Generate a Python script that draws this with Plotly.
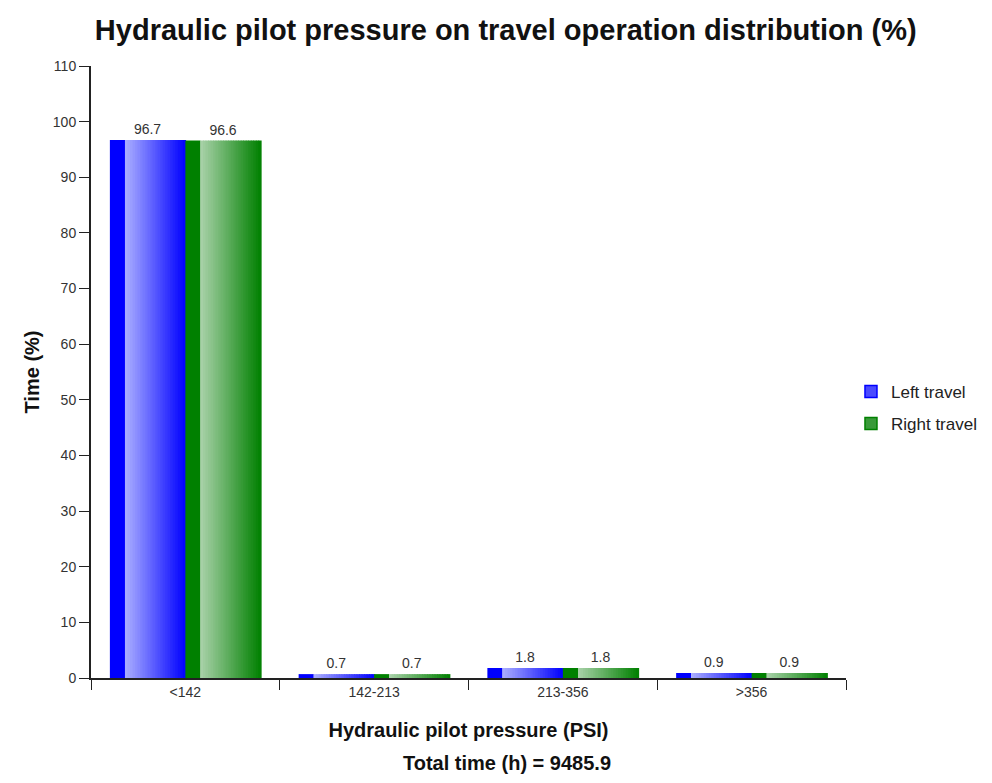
import plotly.graph_objs as go

categories = ["<142", "142-213", "213-356", ">356"]
left_travel = [96.7, 0.7, 1.8, 0.9]
right_travel = [96.6, 0.7, 1.8, 0.9]
y_ticks = list(range(0, 111, 10))
total_time = 9485.9


def blend(c1, c2, t):
    return "rgb(%d,%d,%d)" % tuple(round(a + (b - a) * t) for a, b in zip(c1, c2))


def add_gradient_bar(fig, values, name, start, solid, light, legend_fill):
    bar_w = 0.4
    solid_w = bar_w * 0.2
    n = 24
    step = (bar_w - solid_w) / n
    # dark strip on the left
    fig.add_trace(go.Bar(x=categories, y=values, offset=start, width=solid_w,
                         marker=dict(color=blend(solid, solid, 0), line=dict(width=0)),
                         showlegend=False, hoverinfo="skip"))
    # light -> dark fade
    for i in range(n):
        fig.add_trace(go.Bar(x=categories, y=values,
                             offset=start + solid_w + i * step, width=step * 1.3,
                             marker=dict(color=blend(light, solid, (i + 0.5) / n), line=dict(width=0)),
                             showlegend=False, hoverinfo="skip"))
    # transparent bar carrying the value label
    fig.add_trace(go.Bar(x=categories, y=values, offset=start, width=bar_w, name=name,
                         marker=dict(color="rgba(0,0,0,0)", line=dict(width=0)),
                         text=[f"{v:.1f}" for v in values], textposition="outside",
                         textfont=dict(size=14, color="#333333"), cliponaxis=False,
                         showlegend=False))
    # legend swatch
    fig.add_trace(go.Bar(x=[None], y=[None], name=name, legendgroup=name,
                         marker=dict(color=legend_fill, line=dict(color=blend(solid, solid, 0), width=1.5))))


fig = go.Figure()
add_gradient_bar(fig, left_travel, "Left travel", -0.4, (0, 0, 255), (172, 176, 255), "#4a4aff")
add_gradient_bar(fig, right_travel, "Right travel", 0.0, (0, 128, 0), (170, 210, 170), "#3a9a3a")

fig.update_layout(
    width=976, height=767,
    margin=dict(l=83, r=138, t=58, b=97, autoexpand=False),
    paper_bgcolor="white", plot_bgcolor="white",
    barmode="overlay",
    font=dict(family="Liberation Sans, Arial, sans-serif", color="#333333", size=14),
    title=dict(text="<b>Hydraulic pilot pressure on travel operation distribution (%)</b>",
               x=0.510, xanchor="center", y=0.971, yanchor="middle",
               font=dict(size=29, color="#111111")),
    legend=dict(x=1.0066, y=0.497, xanchor="left", yanchor="top",
                font=dict(size=17, color="#222222"), itemwidth=30, tracegroupgap=7),
    xaxis=dict(type="category", categoryorder="array", categoryarray=categories,
               tickson="boundaries", ticks="outside", ticklen=10, tickwidth=1,
               tickcolor="#222222", showline=True, linecolor="#222222", linewidth=1.5,
               showgrid=False, zeroline=False, tickfont=dict(size=14, color="#333333"),
               title=dict(text="<b>Hydraulic pilot pressure (PSI)</b>",
                          font=dict(size=20, color="#111111"), standoff=24)),
    yaxis=dict(range=[0, 110], tickvals=y_ticks, ticks="outside", ticklen=10, tickwidth=1,
               tickcolor="#222222", showline=True, linecolor="#222222", linewidth=2,
               showgrid=False, zeroline=False, tickfont=dict(size=14, color="#333333"),
               title=dict(text="<b>Time (%)</b>", font=dict(size=20, color="#111111"),
                          standoff=8)),
    annotations=[dict(text=f"<b>Total time (h) = {total_time}</b>", xref="paper", yref="paper",
                      x=0.551, y=-0.139, xanchor="center", yanchor="middle", showarrow=False,
                      font=dict(size=20, color="#111111"))],
    shapes=[dict(type="line", xref="paper", yref="paper", x0=-86 / 755, x1=-86 / 755,
                 y0=-0.1, y1=1.1, line=dict(color="#dddddd", width=1))],
)

fig.write_html("out.html")
